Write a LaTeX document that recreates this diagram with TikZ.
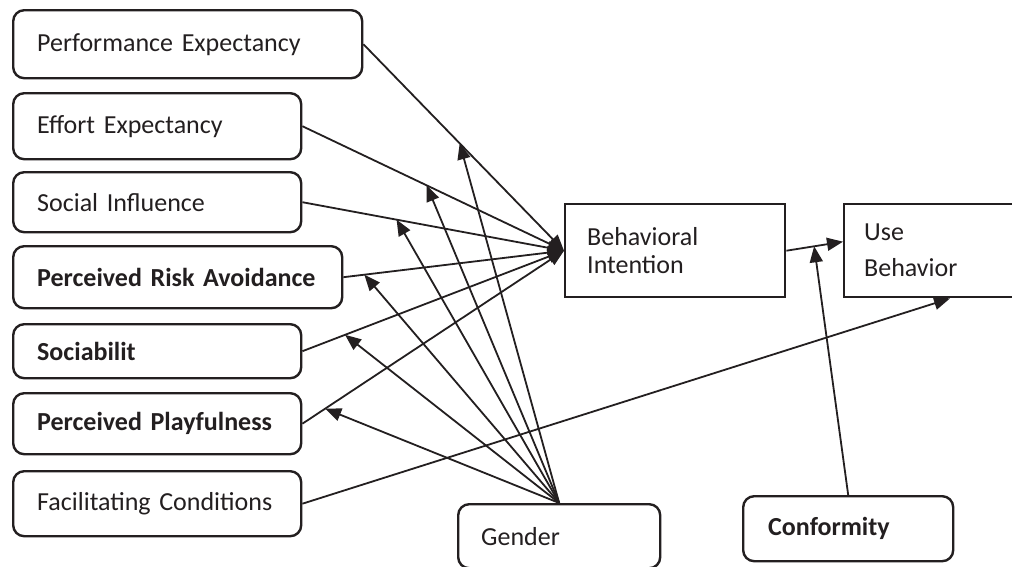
\documentclass[tikz,border=0pt]{standalone}
\usepackage{fontspec}
\setmainfont{Carlito}
\usetikzlibrary{arrows.meta}
\definecolor{ink}{HTML}{231F20}
\begin{document}
\begin{tikzpicture}[x=1pt,y=-1pt,
  box/.style={draw=ink, line width=2.4pt, rounded corners=11pt, anchor=north west, align=left,
    inner xsep=24pt, inner ysep=0pt, font=\fontsize{26}{30}\selectfont, text=ink},
  bbox/.style={box, font=\fontsize{26}{30}\selectfont\bfseries},
  sbox/.style={box, rounded corners=0pt},
  conn/.style={draw=ink, line width=1.8pt, -{Triangle[length=16pt,width=13pt]}}
]
\useasboundingbox (0,0) rectangle (1012,566);
\clip (0,0) rectangle (1012,566);
\fill[white] (0,0) rectangle (1012,566);
% left boxes
\node[box, text width=301pt, minimum height=68pt] (pe) at (12,9) {Performance Expectancy};
\node[box, text width=240pt, minimum height=66pt] (ee) at (12,92) {Effort Expectancy};
\node[box, text width=240pt, minimum height=60pt] (si) at (12,171) {Social Influence};
\node[bbox, text width=281pt, minimum height=62pt] (pra) at (12,245) {Perceived Risk Avoidance};
\node[bbox, text width=240pt, minimum height=54pt] (soc) at (12,323) {Sociabilit};
\node[bbox, text width=240pt, minimum height=61pt] (pp) at (12,392) {Perceived Playfulness};
\node[box, text width=240pt, minimum height=65pt] (fc) at (12,470) {Facilitating Conditions};
% right boxes
\node[sbox, inner xsep=22pt, text width=176pt, minimum height=93pt] (bi) at (564,203) {Behavioral\\[-2pt]Intention};
\node[sbox, inner xsep=20pt, text width=170pt, minimum height=93pt] (ub) at (843,203) {Use\\[6pt]Behavior};
\node[box, inner xsep=23pt, text width=156pt, minimum height=64pt] (gen) at (457,503) {Gender};
\node[bbox, inner xsep=25pt, text width=160pt, minimum height=65pt] (conf) at (742,495) {Conformity};
% connectors to Behavioral Intention
\draw[conn] (pe.east) -- coordinate[pos=0.48] (m1) (bi.west);
\draw[conn] (ee.east) -- coordinate[pos=0.475] (m2) (bi.west);
\draw[conn] (si.east) -- coordinate[pos=0.36] (m3) (bi.west);
\draw[conn] (pra.east) -- coordinate[pos=0.095] (m4) (bi.west);
\draw[conn] (soc.east) -- coordinate[pos=0.163] (m5) (bi.west);
\draw[conn] (pp.east) -- coordinate[pos=0.087] (m6) (bi.west);
% to Use Behavior
\coordinate (ubin) at ([yshift=9pt]ub.west);
\draw[conn] (bi.east) -- coordinate[pos=0.49] (mc) (ubin);
\coordinate (ubbot) at ([xshift=107pt]ub.south west);
\draw[conn] (fc.east) -- (ubbot);
% moderators
\foreach \m in {m1,m2,m3,m4,m5,m6} \draw[conn] (gen.north) -- (\m);
\draw[conn] (conf.north) -- (mc);
\end{tikzpicture}
\end{document}
